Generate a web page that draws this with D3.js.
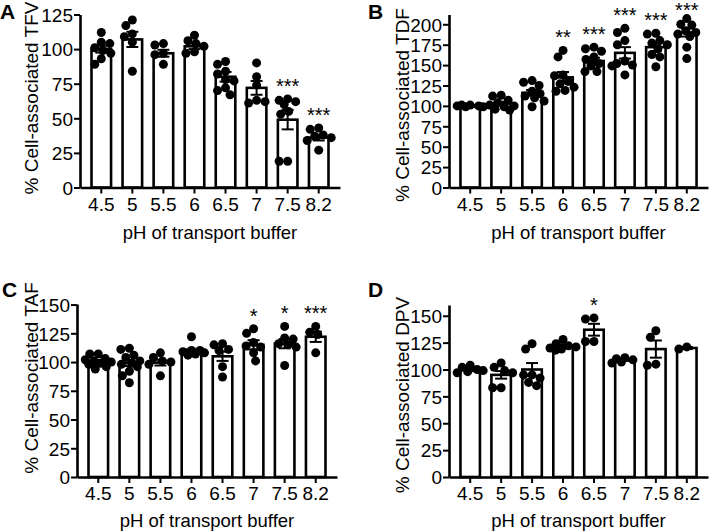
<!DOCTYPE html>
<html><head><meta charset="utf-8">
<script src="https://cdn.jsdelivr.net/npm/d3@7"></script>
<style>
body{margin:0;background:#fff}
svg{display:block}
text{font-family:"Liberation Sans",Arial,Helvetica,sans-serif;fill:#000}
</style>
</head><body>
<svg id="chart" width="711" height="531"></svg>
<script>
// ---------- DATA ----------
const categories = ["4.5","5","5.5","6","6.5","7","7.5","8.2"];
const xTitle = "pH of transport buffer";

// Panel A: TFV
const meanTFV = [100, 107, 97, 102, 80, 72, 49, 36];
const semTFV  = [2.5, 5.5, 2.5, 2, 3.5, 5, 7, 2];
const pointsTFV = [
  [112, 104, 105, 101, 99, 97, 93, 89],
  [117, 121, 111, 109, 105, 84],
  [104, 103, 97, 96, 89],
  [110, 106, 104, 102, 98, 97],
  [89, 91, 84, 82, 78, 77, 72, 67, 70],
  [90, 80, 74, 62, 63, 61],
  [63, 64, 62, 60, 55, 53, 19, 19],
  [43, 42, 38, 36, 34, 27, 37]
];
const sigTFV = ["", "", "", "", "", "", "***", "***"];
const yTicksTFV = [0, 25, 50, 75, 100, 125];

// Panel B: TDF
const meanTDF = [100, 103, 116, 135, 155, 165, 172, 190];
const semTDF  = [1, 2, 3.5, 6.5, 4, 7, 5, 5];
const pointsTDF = [
  [101, 100, 99, 101, 100, 99],
  [113, 112, 107, 104, 101, 99, 96, 95, 100],
  [129, 131, 125, 118, 115, 110, 106, 99, 112],
  [160, 168, 138, 137, 130, 127, 123, 119, 118],
  [172, 170, 167, 160, 157, 152, 149, 142, 142],
  [190, 195, 180, 175, 155, 150, 149, 138, 152],
  [189, 188, 180, 177, 175, 170, 163, 160, 148],
  [207, 200, 199, 192, 190, 188, 172, 158, 185]
];
const sigTDF = ["", "", "", "**", "***", "***", "***", "***"];
const yTicksTDF = [0, 25, 50, 75, 100, 125, 150, 175, 200];

// Panel C: TAF
const meanTAF = [100, 99, 99.5, 109, 105, 115, 116, 122];
const semTAF  = [1.5, 2.5, 2.5, 2, 4, 4, 4, 4.5];
const pointsTAF = [
  [107, 107, 103, 101, 100, 98, 96, 94, 102, 99],
  [111, 112, 106, 104, 101, 98, 96, 92, 82, 88, 99],
  [108, 104, 101, 98, 88, 100],
  [122, 110, 110, 108, 107, 106, 109],
  [116, 115, 111, 110, 87, 96],
  [125, 129, 117, 114, 113, 101, 108],
  [131, 121, 120, 116, 113, 97, 115],
  [131, 126, 124, 108]
];
const sigTAF = ["", "", "", "", "", "*", "*", "***"];
const yTicksTAF = [0, 25, 50, 75, 100, 125, 150];

// Panel D: DPV
const meanDPV = [100, 95, 100, 122, 137, 109, 119, 120];
const semDPV  = [1.5, 3.5, 6, 1.5, 5.5, 1, 8, 1];
const pointsDPV = [
  [104, 102, 98, 97, 100, 99],
  [106, 102, 99, 97, 83, 83],
  [119, 124, 95, 92, 88, 85, 95],
  [128, 124, 122, 120, 118, 119, 121],
  [148, 147, 126, 126],
  [107, 110, 109, 106, 111],
  [136, 130, 104, 105],
  [119, 121]
];
const sigDPV = ["", "", "", "", "*", "", "", ""];
const yTicksDPV = [0, 25, 50, 75, 100, 125, 150];

// ---------- LAYOUT ----------
const panels = [
  {letter:"A", title:"% Cell-associated TFV", mean:meanTFV, sem:semTFV, pts:pointsTFV, sig:sigTFV, ticks:yTicksTFV,
   x0:80, x1:340, y0:187.5, yTop:14.5, yMax:125, letterX:0, letterY:19, titleX:38, titleY:98, tickY:211, xTitleY:239},
  {letter:"B", title:"% Cell-associated TDF", mean:meanTDF, sem:semTDF, pts:pointsTDF, sig:sigTDF, ticks:yTicksTDF,
   x0:449, x1:708, y0:187.5, yTop:14.5, yMax:212, letterX:368, letterY:19, titleX:409, titleY:105, tickY:211, xTitleY:239},
  {letter:"C", title:"% Cell-associated TAF", mean:meanTAF, sem:semTAF, pts:pointsTAF, sig:sigTAF, ticks:yTicksTAF,
   x0:77, x1:337, y0:477, yTop:304, yMax:150.5, letterX:2, letterY:297, titleX:38, titleY:378, tickY:500, xTitleY:527},
  {letter:"D", title:"% Cell-associated DPV", mean:meanDPV, sem:semDPV, pts:pointsDPV, sig:sigDPV, ticks:yTicksDPV,
   x0:449, x1:708, y0:477, yTop:305, yMax:160, letterX:368, letterY:297, titleX:409, titleY:395, tickY:500, xTitleY:527}
];

const svg = d3.select("#chart");
const R = 4.5;

function swarm(vals, y, cx, r, maxHalf) {
  const pts = vals.map(v => ({v, py: y(v)})).sort((a, b) => a.py - b.py);
  const placed = [];
  const minD = 2 * r - 0.8;
  pts.forEach((p, i) => {
    let best = null;
    const pref = i % 2 === 0 ? 1 : -1;
    for (let k = 0; k <= maxHalf && best === null; k += 0.5) {
      const cands = k === 0 ? [0] : [pref * k, -pref * k];
      for (const dx of cands) {
        if (placed.every(q => (q.dx - dx) ** 2 + (q.py - p.py) ** 2 >= minD * minD)) { best = dx; break; }
      }
    }
    if (best === null) {
      let bestScore = -1;
      for (let dx = -maxHalf; dx <= maxHalf; dx += 0.5) {
        const m = d3.min(placed, q => Math.hypot(q.dx - dx, q.py - p.py));
        if (m > bestScore) { bestScore = m; best = dx; }
      }
    }
    p.dx = best; placed.push(p);
  });
  return pts.map(p => ({x: cx + p.dx, y: p.py}));
}

panels.forEach(P => {
  const g = svg.append("g");
  const x = d3.scaleBand().domain(categories).range([P.x0, P.x1]).paddingInner(0.29).paddingOuter(0.33);
  const y = d3.scaleLinear().domain([0, P.yMax]).range([P.y0, P.yTop]);

  // bars
  g.selectAll("rect.bar").data(P.mean).join("rect")
    .attr("x", (d, i) => x(categories[i]) + 1.25)
    .attr("width", x.bandwidth() - 2.5)
    .attr("y", d => y(d))
    .attr("height", d => y(0) - y(d))
    .attr("fill", "#fff").attr("stroke", "#000").attr("stroke-width", 2.6);

  // error bars
  P.mean.forEach((m, i) => {
    const cx = x(categories[i]) + x.bandwidth() / 2;
    const s = P.sem[i];
    const eg = g.append("g").attr("stroke", "#000").attr("stroke-width", 2);
    eg.append("line").attr("x1", cx).attr("x2", cx).attr("y1", y(m - s)).attr("y2", y(m + s));
    [m - s, m + s].forEach(v => eg.append("line").attr("x1", cx - 6).attr("x2", cx + 6).attr("y1", y(v)).attr("y2", y(v)));
  });

  // points
  P.pts.forEach((vals, i) => {
    const cx = x(categories[i]) + x.bandwidth() / 2;
    const pos = swarm(vals, y, cx, R, 13);
    g.selectAll(null).data(pos).join("circle")
      .attr("cx", d => d.x).attr("cy", d => d.y).attr("r", R).attr("fill", "#000");
  });

  // significance
  P.sig.forEach((s, i) => {
    if (!s) return;
    const cx = x(categories[i]) + x.bandwidth() / 2;
    const top = y(d3.max(P.pts[i]));
    g.append("text").attr("x", cx).attr("y", Math.max(top - 6, 17)).attr("text-anchor", "middle")
      .style("font-size", "20px").text(s);
  });

  // axes
  const yAxis = d3.axisLeft(y).tickValues(P.ticks).tickSize(6).tickSizeOuter(0).tickPadding(1);
  const ya = g.append("g").attr("transform", `translate(${P.x0},0)`).call(yAxis);
  const xAxis = d3.axisBottom(x).tickSize(6).tickSizeOuter(0).tickPadding(2);
  const xa = g.append("g").attr("transform", `translate(0,${P.y0})`).call(xAxis);
  [ya, xa].forEach(a => {
    a.selectAll("path.domain").attr("stroke", "#000").attr("stroke-width", 2.6);
    a.selectAll(".tick line").attr("stroke", "#000").attr("stroke-width", 2);
    a.selectAll(".tick text").attr("fill", "#000").style("font-size", "19px")
      .style("font-family", '"Liberation Sans",Arial,sans-serif');
  });
  ya.selectAll(".tick text").attr("dy", "0.36em");
  xa.selectAll(".tick text").attr("dy", null).attr("y", P.tickY - P.y0);

  // titles
  g.append("text").attr("x", (P.x0 + P.x1) / 2).attr("y", P.xTitleY).attr("text-anchor", "middle")
    .style("font-size", "18.5px").text(xTitle);
  g.append("text").attr("transform", `translate(${P.titleX},${P.titleY}) rotate(-90)`).attr("text-anchor", "middle")
    .style("font-size", "19px").text(P.title);
  g.append("text").attr("x", P.letterX).attr("y", P.letterY).style("font-size", "21px").style("font-weight", "bold")
    .text(P.letter);
});
</script>
</body></html>
